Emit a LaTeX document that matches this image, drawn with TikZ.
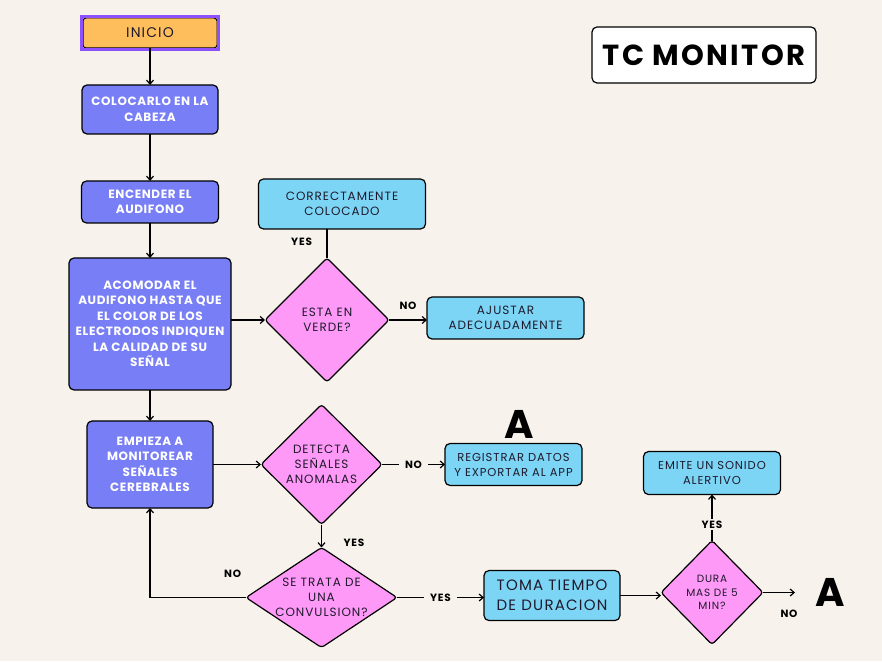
\documentclass[tikz,border=0pt]{standalone}
\usepackage{fontspec}
\setmainfont{Poppins}
\newfontfamily\widefont[LetterSpace=8]{Poppins}
\newfontfamily\boldwide[LetterSpace=5]{Poppins}
\usepackage{xcolor}
\usetikzlibrary{positioning, shapes.geometric, arrows.meta, calc}

\definecolor{bgcream}{HTML}{F7F3EC}
\definecolor{startorange}{HTML}{FFBE5C}
\definecolor{selpurple}{HTML}{8C52FF}
\definecolor{procviolet}{HTML}{787EF5}
\definecolor{infoblue}{HTML}{7DD5F6}
\definecolor{askpink}{HTML}{FF99F7}
\definecolor{inkdark}{HTML}{1E1A2C}

\begin{document}
\begin{tikzpicture}[x=1pt, y=1pt, >={Straight Barb[length=4pt, width=7pt]},
    every node/.style={font=\widefont\fontsize{12}{15}\selectfont, text=inkdark, outer sep=0pt},
    startbox/.style={draw=black, line width=1pt, fill=startorange, rounded corners=3pt, minimum width=134pt, minimum height=30pt, inner sep=0pt},
    procbox/.style={draw=black, line width=1.2pt, fill=procviolet, rounded corners=5pt, align=center, inner sep=0pt, text=white, font=\boldwide\bfseries\fontsize{12}{15.5}\selectfont},
    infobox/.style={draw=black, line width=1.2pt, fill=infoblue, rounded corners=5pt, align=center, inner sep=0pt},
    decision/.style={diamond, draw=black, line width=1.2pt, fill=askpink, rounded corners=3pt, align=center, inner sep=0pt},
    flow/.style={->, line width=1.2pt},
    lbl/.style={font=\widefont\bfseries\fontsize{10.5}{12}\selectfont, text=black, inner sep=2pt},
    bigletter/.style={font=\bfseries\fontsize{40}{40}\selectfont, text=black, inner sep=0pt}]

        \path [use as bounding box, fill=bgcream] (0,0) rectangle (882,661);

        % Main column
        \node (inicio) [startbox, font=\widefont\fontsize{14}{16}\selectfont] at (150,628) {INICIO};
        \draw [selpurple, line width=3pt] ($(inicio.south west)+(-1.5,-1.5)$) rectangle ($(inicio.north east)+(1.5,1.5)$);
        \node (colocar) [procbox, minimum width=136pt, minimum height=49pt, below=37pt of inicio] {COLOCARLO EN LA\\CABEZA};
        \node (encender) [procbox, minimum width=137pt, minimum height=42pt, below=47pt of colocar] {ENCENDER EL\\AUDIFONO};
        \node (acomodar) [procbox, minimum width=162pt, minimum height=132pt, below=35pt of encender] {ACOMODAR EL\\AUDIFONO HASTA QUE\\EL COLOR DE LOS\\ELECTRODOS INDIQUEN\\LA CALIDAD DE SU\\SEÑAL};
        \node (empieza) [procbox, minimum width=126pt, minimum height=87pt, below=31pt of acomodar] {EMPIEZA A\\MONITOREAR\\SEÑALES\\CEREBRALES};

        % Signal check
        \node (verde) [decision, minimum width=124pt, minimum height=124pt, right=34pt of acomodar, yshift=4pt] {ESTA EN\\VERDE?};
        \node (correcto) [infobox, minimum width=167pt, minimum height=50pt, above=29pt of verde, xshift=15pt] {CORRECTAMENTE\\COLOCADO};
        \node (ajustar) [infobox, minimum width=157pt, minimum height=42pt, right=38pt of verde, yshift=2pt] {AJUSTAR\\ADECUADAMENTE};

        % Monitoring
        \node (detecta) [decision, minimum width=121pt, minimum height=120pt, right=48pt of empieza] {DETECTA\\SEÑALES\\ANOMALAS};
        \node (registrar) [infobox, minimum width=137pt, minimum height=42pt, right=63pt of detecta, font=\widefont\fontsize{11.5}{15}\selectfont] {REGISTRAR DATOS\\Y EXPORTAR AL APP};
        \node (a1) [bigletter, above=5pt of registrar, xshift=6pt] {A};
        \node (convulsion) [decision, aspect=1.5, minimum width=151pt, minimum height=98pt, below=23pt of detecta] {SE TRATA DE\\UNA\\CONVULSION?};
        \node (toma) [infobox, minimum width=136pt, minimum height=50pt, right=87pt of convulsion, yshift=2pt, font=\widefont\fontsize{15}{20}\selectfont] {TOMA TIEMPO\\DE DURACION};
        \node (dura) [decision, minimum width=102pt, minimum height=104pt, right=41pt of toma, yshift=3pt, font=\widefont\fontsize{10.5}{13.5}\selectfont] {DURA\\MAS DE 5\\MIN?};
        \node (emite) [infobox, minimum width=137pt, minimum height=43pt, above=46pt of dura, font=\widefont\fontsize{11.5}{15}\selectfont] {EMITE UN SONIDO\\ALERTIVO};
        \node (a2) [bigletter, right=52pt of dura] {A};

        % Title
        \node (titulo) [draw=black, line width=1.2pt, fill=white, rounded corners=5pt, minimum width=224pt, minimum height=56pt, font=\widefont\bfseries\fontsize{29}{30}\selectfont, text=black] at (704,606) {TC MONITOR};

        % Connectors
        \draw [flow] (inicio) -- (colocar);
        \draw [flow] (colocar) -- (encender);
        \draw [flow] (encender) -- (acomodar);
        \draw [flow] (acomodar.east |- verde.west) -- (verde.west);
        \draw [line width=1.2pt] (verde.north) -- node[lbl, left=13pt, pos=0.55] (siVerde) {YES} (verde.north |- correcto.south);
        \draw [flow] (verde.east) -- node[lbl, above=8pt] (noVerde) {NO} (verde.east -| ajustar.west);
        \draw [flow] (acomodar) -- (empieza);
        \draw [flow] (empieza.east) -- (empieza.east -| detecta.west);
        \draw [flow] (detecta.east) -- node[lbl, fill=bgcream, inner xsep=6pt] (noDetecta) {NO} (detecta.east -| registrar.west);
        \draw [flow] (detecta) -- node[lbl, right=20pt, pos=0.8] (siDetecta) {YES} (convulsion);
        \draw [flow] (convulsion.west) -| node[lbl, pos=0.07, above=18pt] (noConvulsion) {NO} (empieza.south);
        \draw [flow] (convulsion.east) -- node[lbl, fill=bgcream, inner xsep=6pt] (siConvulsion) {YES} (convulsion.east -| toma.west);
        \draw [flow] (toma.east) -- (toma.east -| dura.west);
        \draw [flow] (dura) -- node[lbl, fill=bgcream, pos=0.35] (siDura) {YES} (emite);
        \draw [flow, shorten >=20pt] (dura.east) -- node[lbl, below=15pt] (noDura) {NO} (dura.east -| a2.west);

    \end{tikzpicture}
\end{document}
